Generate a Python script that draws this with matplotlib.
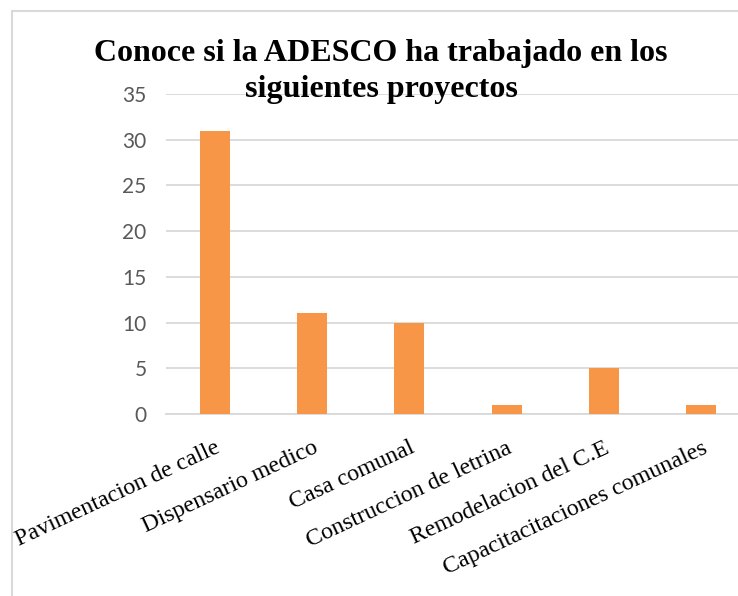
import matplotlib
matplotlib.use("Agg")
import matplotlib.pyplot as plt
from matplotlib.patches import Rectangle

# Datos de la grafica
proyectos = ["Pavimentacion de calle", "Dispensario medico", "Casa comunal",
             "Construccion de letrina", "Remodelacion del C.E",
             "Capacitacitaciones comunales"]
respuestas = [31, 11, 10, 1, 5, 1]
ticks_y = [0, 5, 10, 15, 20, 25, 30, 35]

W, H = 738, 596
fig = plt.figure(figsize=(W / 100, H / 100), dpi=100)

# Marco del grafico (solo se ven el borde izquierdo y el superior)
fig.patches.append(Rectangle((12 / W, -0.1), 1.2, 1 - 11 / H + 0.1,
                             transform=fig.transFigure, fill=False,
                             edgecolor="#D9D9D9", linewidth=1.5))

ax = fig.add_axes([166 / W, 1 - 414 / H, 584 / W, 320 / H])
x = list(range(len(proyectos)))
ax.bar(x, respuestas, width=0.31, color="#F79646", zorder=3)

ax.set_xlim(-0.5, len(proyectos) - 0.5)
ax.set_ylim(0, 35)
ax.set_yticks(ticks_y)
ax.set_yticklabels([str(v) for v in ticks_y], fontfamily="Lato",
                   fontsize=15, color="#595959")
ax.tick_params(axis="y", length=0, pad=14)
ax.grid(axis="y", color="#D9D9D9", linewidth=1.3, zorder=0)

ax.set_xticks(x)
ax.set_xticklabels(proyectos, rotation=25, ha="right", va="top",
                   rotation_mode="anchor", fontfamily="Liberation Serif",
                   fontsize=17.3, color="black")
ax.tick_params(axis="x", length=0, pad=17)

for lado in ["top", "right", "left"]:
    ax.spines[lado].set_visible(False)
ax.spines["bottom"].set_color("#D9D9D9")
ax.spines["bottom"].set_linewidth(1.3)
ax.set_facecolor("none")

fig.text(381 / W, 1 - 53 / H, "Conoce si la ADESCO ha trabajado en los",
         ha="center", va="center", fontfamily="Liberation Serif",
         fontweight="bold", fontsize=23)
fig.text(381 / W, 1 - 89 / H, "siguientes proyectos",
         ha="center", va="center", fontfamily="Liberation Serif",
         fontweight="bold", fontsize=23)

fig.savefig("out.png", dpi=100)
